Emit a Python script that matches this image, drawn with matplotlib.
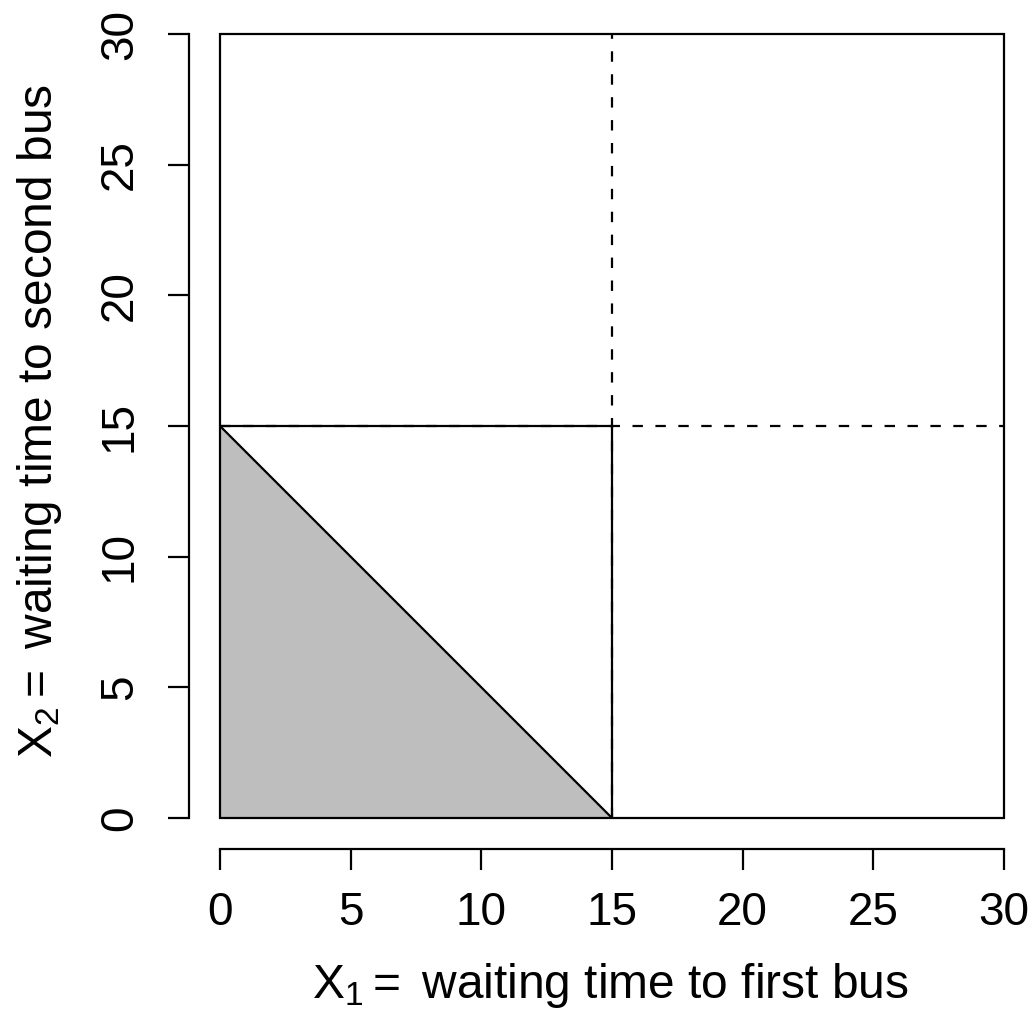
import matplotlib
matplotlib.use('Agg')
import matplotlib.pyplot as plt
from matplotlib.patches import Polygon, Rectangle

plt.rcParams['font.family'] = 'Liberation Sans'
plt.rcParams['mathtext.fontset'] = 'custom'
plt.rcParams['mathtext.rm'] = 'Liberation Sans'
plt.rcParams['mathtext.it'] = 'Liberation Sans'
plt.rcParams['lines.scale_dashes'] = False

# data
x_ticks = [0, 5, 10, 15, 20, 25, 30]
y_ticks = [0, 5, 10, 15, 20, 25, 30]
limit = 15
shade_x = [0, 0, 15]
shade_y = [0, 15, 0]
diag_x = [0, 15]
diag_y = [15, 0]
square_x = [0, 15, 15]
square_y = [15, 15, 0]

fig = plt.figure(figsize=(10.36, 10.18), dpi=100)
ax = fig.add_axes([220 / 1036, 200 / 1018, 784 / 1036, 784 / 1018])
ax.set_xlim(0, 30)
ax.set_ylim(0, 30)

lw = 1.6
ax.add_patch(Polygon(list(zip(shade_x, shade_y)), closed=True,
                     facecolor='#BEBEBE', edgecolor='none'))
ax.plot(diag_x, diag_y, color='black', lw=lw)
ax.plot(square_x, square_y, color='black', lw=lw)
ax.axvline(limit, color='black', lw=lw, ls=(0, (7.5, 9)))
ax.axhline(limit, color='black', lw=lw, ls=(0, (7.5, 9)))

ax.add_patch(Rectangle((0, 0), 1, 1, transform=ax.transAxes, fill=False,
                       edgecolor='black', lw=lw, clip_on=False, zorder=5))

for s in ['top', 'right']:
    ax.spines[s].set_visible(False)
for s in ['left', 'bottom']:
    ax.spines[s].set_position(('outward', 22.3))
    ax.spines[s].set_linewidth(lw)
ax.spines['bottom'].set_bounds(0, 30)
ax.spines['left'].set_bounds(0, 30)

ax.set_xticks(x_ticks)
ax.set_yticks(y_ticks)
ax.tick_params(axis='both', length=15, width=lw, labelsize=33)
ax.tick_params(axis='x', pad=15)
ax.tick_params(axis='y', pad=19)
for lab in ax.get_yticklabels():
    lab.set_rotation(90)
    lab.set_va('center')

fig.text(610 / 1036, 1 - 985 / 1018, r'$\mathregular{X_1 =}$ waiting time to first bus',
         ha='center', va='center', fontsize=34.5)
fig.text(40 / 1036, 1 - 421 / 1018, r'$\mathregular{X_2 =}$ waiting time to second bus',
         ha='center', va='center', fontsize=34.5, rotation=90)

fig.savefig('out.png', dpi=100)
